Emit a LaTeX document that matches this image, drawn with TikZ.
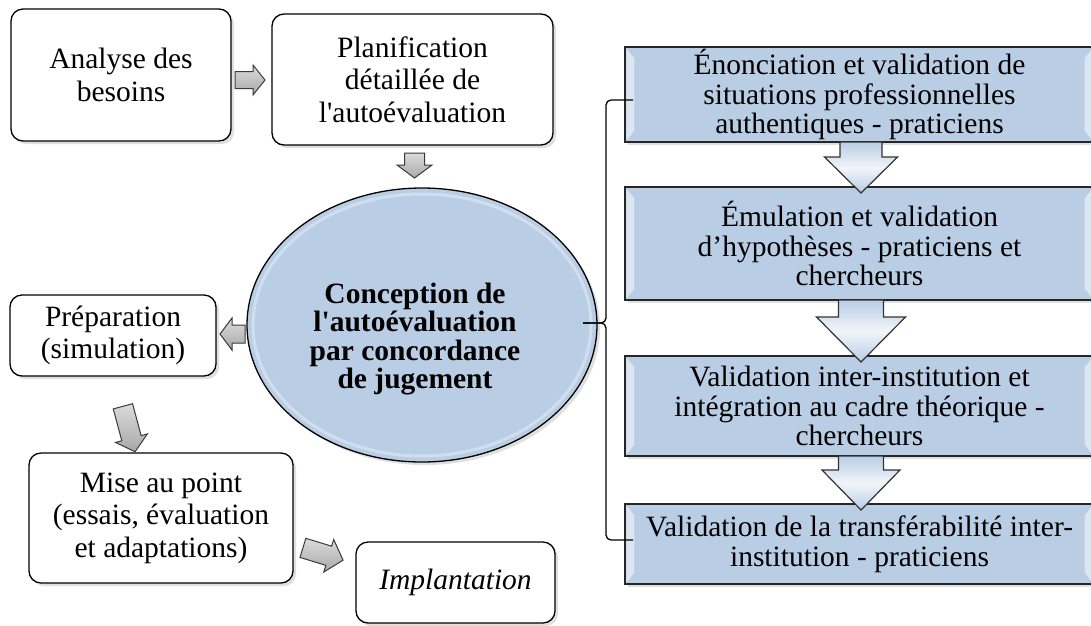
\documentclass[tikz,border=0pt]{standalone}
\usepackage{fontspec}
\setmainfont{Liberation Serif}
\usetikzlibrary{shapes.geometric,shadows,calc}
\definecolor{boxblue}{HTML}{B9CDE5}
\definecolor{lightblue}{HTML}{DCE6F2}
\definecolor{arrowedge}{HTML}{3A3A3A}
\newcommand\bevelbox[1]{%
  \fill[white,opacity=0.5] ($(#1.north west)+(2,2)$) -- ($(#1.north west)+(10,12)$) -- ($(#1.south west)+(10,-12)$) -- ($(#1.south west)+(2,-2)$) -- cycle;
  \fill[white,opacity=0.5] ($(#1.north east)+(-2,2)$) -- ($(#1.north east)+(-10,12)$) -- ($(#1.south east)+(-10,-12)$) -- ($(#1.south east)+(-2,-2)$) -- cycle;}
% #1 style, #2 cx, #3 cy, #4 angle, #5 length, #6 head width, #7 shaft width, #8 head length
\newcommand\blockarrow[8]{%
  \draw[#1, shift={(#2,#3)}, rotate=#4] ({-#5/2},{-#7/2}) -- ({#5/2-#8},{-#7/2}) -- ({#5/2-#8},{-#6/2}) -- ({#5/2},0) -- ({#5/2-#8},{#6/2}) -- ({#5/2-#8},{#7/2}) -- ({-#5/2},{#7/2}) -- cycle;}
\begin{document}
\begin{tikzpicture}[x=1pt,y=-1pt,
  wbox/.style={draw=black, line width=1.3pt, rounded corners=12pt, fill=white, align=center,
    font=\fontsize{29.5}{32.5}\selectfont, inner sep=0pt,
    drop shadow={opacity=0.25, shadow xshift=3pt, shadow yshift=-3pt}},
  bbox/.style={draw=black!85, line width=1.3pt, fill=boxblue, align=center,
    font=\fontsize{29.5}{29.5}\selectfont, inner sep=0pt, minimum width=469pt,
    drop shadow={opacity=0.25, shadow xshift=3pt, shadow yshift=-3pt}},
  garrow/.style={draw=arrowedge, line width=1pt, line join=miter, top color=black!14, bottom color=black!34},
  barrow/.style={draw=black!80, line width=1.2pt, line join=miter, top color=boxblue, bottom color=boxblue, middle color=lightblue!40!white},
  brace/.style={draw=black, line width=1.3pt, rounded corners=5pt}]
\useasboundingbox (0,0) rectangle (1091,625);
\fill[white] (0,0) rectangle (1091,625);

% left boxes
\node[wbox, minimum width=220pt, minimum height=132pt] (analyse) at (121,75) {Analyse des\\besoins};
\node[wbox, minimum width=281pt, minimum height=131pt] (plan) at (412.5,79.5) {Planification\\détaillée de\\l\textquotesingle autoévaluation};
\node[wbox, minimum width=206pt, minimum height=81pt] (prep) at (113,335.5) {Préparation\\(simulation)};
\node[wbox, minimum width=264pt, minimum height=130pt] (mise) at (161,518) {Mise au point\\(essais, évaluation\\et adaptations)};
\node[wbox, minimum width=199pt, minimum height=81pt] (impl) at (455.5,582.5) {\textit{Implantation}};

% central ellipse
\node[ellipse, draw=black, line width=1.3pt, fill=boxblue, minimum width=350pt, minimum height=274pt, inner sep=0pt,
  drop shadow={opacity=0.25, shadow xshift=3pt, shadow yshift=-3pt}] (concep) at (422,325) {};
\draw[white, opacity=0.35, line width=3pt] (422,325) ellipse [x radius=169pt, y radius=131pt];
\node[align=center, font=\bfseries\fontsize{29.5}{28.5}\selectfont] (concept) at (415,339) {Conception de\\l\textquotesingle autoévaluation\\par concordance\\de jugement};

% small gray arrows
\blockarrow{garrow}{250}{80}{0}{30}{30}{17}{12}
\blockarrow{garrow}{414.5}{165.5}{-90}{25}{35}{20}{13}
\blockarrow{garrow}{232.5}{334}{180}{25}{32}{18}{12}
\blockarrow{garrow}{129}{429}{-75}{47}{33}{20}{14}
\blockarrow{garrow}{323}{554}{-17}{42}{34}{20}{15}

% right column
\node[bbox, minimum height=95pt] (r1) at (859.5,94.5) {Énonciation et validation de\\situations professionnelles\\authentiques - praticiens};
\node[bbox, minimum height=113pt] (r2) at (859.5,243.5) {Émulation et validation\\d’hypothèses - praticiens et\\chercheurs};
\node[bbox, minimum height=100pt] (r3) at (859.5,406) {Validation inter-institution et\\intégration au cadre théorique -\\chercheurs};
\node[bbox, minimum height=80pt] (r4) at (859.5,544) {Validation de la transférabilité inter-\\institution - praticiens};
\bevelbox{r1}\bevelbox{r2}\bevelbox{r3}\bevelbox{r4}

\blockarrow{barrow}{861}{167.5}{-90}{51}{73}{42}{36}
\blockarrow{barrow}{861}{331}{-90}{62}{89}{45}{45}
\blockarrow{barrow}{861}{483}{-90}{54}{78}{45}{40}

% brace
\coordinate (btop) at (633,100);
\coordinate (bbot) at (633,540);
\coordinate (btip) at (583,323);
\draw[brace] (btop) -- (606,100) -- (606,323) -- (btip);
\draw[brace] (btip) -- (606,323) -- (606,540) -- (bbot);
\end{tikzpicture}
\end{document}
